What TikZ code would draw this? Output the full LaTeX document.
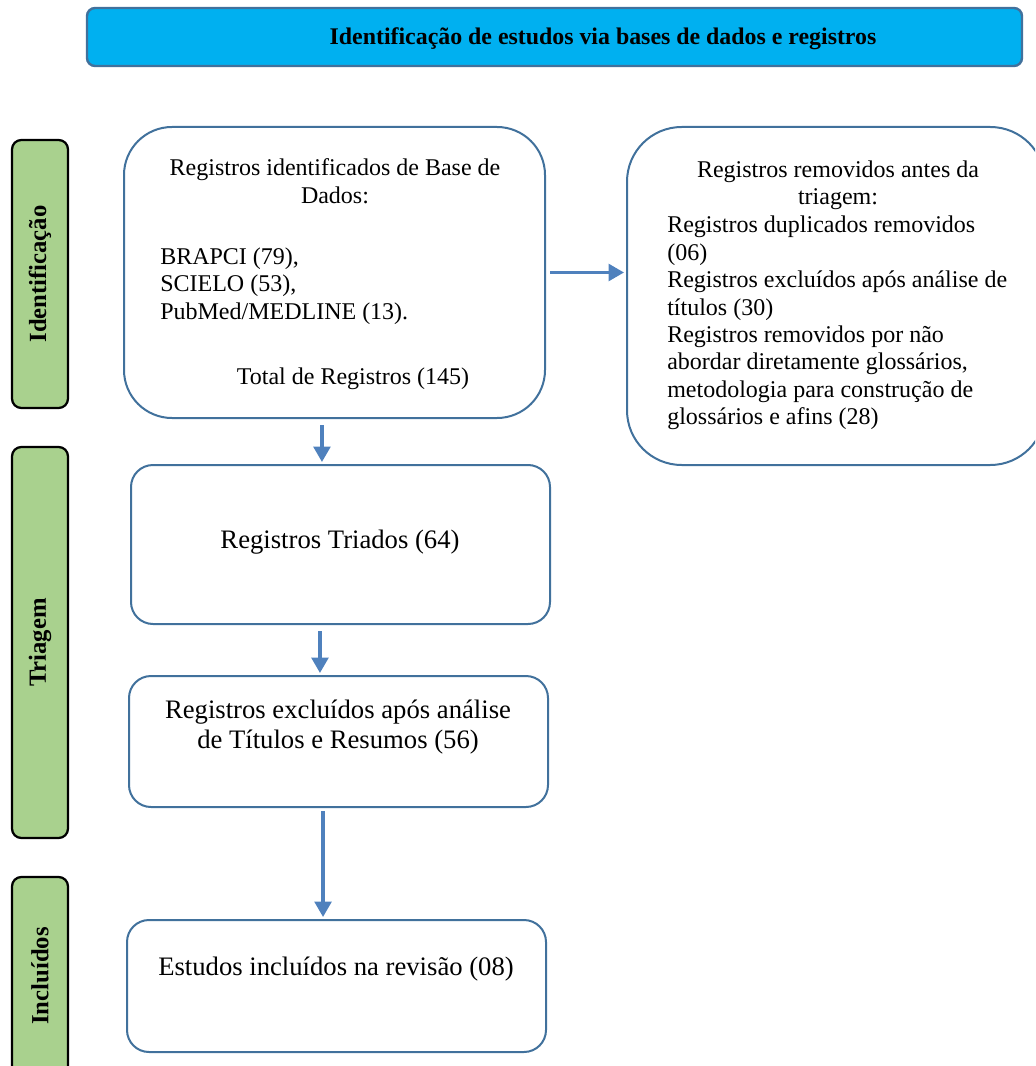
\documentclass[tikz,border=0pt]{standalone}
\usepackage{fontspec}
\setmainfont{Liberation Serif}
\usetikzlibrary{arrows.meta}
\definecolor{boxline}{RGB}{65,113,156}
\definecolor{arrowblue}{RGB}{79,129,189}
\definecolor{bannerfill}{RGB}{0,176,240}
\definecolor{stagefill}{RGB}{169,209,142}

\begin{document}
\begin{tikzpicture}[x=0.75pt,y=0.75pt,yscale=-1,xscale=1,
  flowbox/.style={draw=boxline,line width=1.5pt,fill=white,rounded corners=16.5pt,inner sep=0pt,minimum width=314.25pt},
  stagebox/.style={draw=black,line width=1.7pt,fill=stagefill,rounded corners=7pt,rotate=90,minimum height=42pt,inner sep=0pt,font=\fontsize{18.5}{21}\selectfont\bfseries},
  bodytext/.style={inner sep=0pt,font=\fontsize{18}{20.6}\selectfont},
  largetext/.style={inner sep=0pt,font=\fontsize{20}{22.5}\selectfont},
  flowarrow/.style={draw=arrowblue,line width=2.5pt,-{Triangle[length=11.5pt,width=12.5pt]}}]
\useasboundingbox (0,0) rectangle (1035,1066);
\clip (0,0) rectangle (1035,1066);
\node [draw=boxline,line width=1.8pt,fill=bannerfill,rounded corners=6pt,minimum width=701.25pt,minimum height=43.5pt] (banner) at (554.5,37) {};
\node [inner sep=0pt,font=\fontsize{17.9}{20}\selectfont\bfseries] (bannertext) at (603,39) {Identificação de estudos via bases de dados e registros};
\node [stagebox,minimum width=201pt] (identificacao) at (40,274) {Identificação};
\node [stagebox,minimum width=293.25pt] (triagem) at (40,642.5) {Triagem};
\node [stagebox,minimum width=148.5pt] (incluidos) at (40,976) {Incluídos};
\node [flowbox,minimum width=315.75pt,minimum height=218.25pt,rounded corners=36pt] (registros) at (334.5,272.5) {};
\node [flowbox,minimum width=313.5pt,minimum height=253.5pt,rounded corners=41pt] (removidos) at (836,296) {};
\node [flowbox,minimum height=119.25pt] (triados) at (340.5,544.5) {};
\node [flowbox,minimum height=98.25pt] (excluidos) at (338.5,741.5) {};
\node [flowbox,minimum height=99pt] (incluidosbox) at (336.5,986) {};
\draw (335,181) node [bodytext,align=center] (registrostitle) {Registros identificados de Base de\\Dados:};
\draw (160,286) node [bodytext,align=left,anchor=west] (registroslist) {BRAPCI (79),\\SCIELO (53),\\PubMed/MEDLINE (13).};
\draw (353,379) node [bodytext] (registrostotal) {Total de Registros (145)};
\draw (838,185) node [bodytext,align=center] (removidostitle) {Registros removidos antes da\\triagem:};
\draw (667,323) node [bodytext,align=left,anchor=west] (removidoslist) {Registros duplicados removidos\\(06)\\Registros excluídos após análise de\\títulos (30)\\Registros removidos por não\\abordar diretamente glossários,\\metodologia para construção de\\glossários e afins (28)};
\draw (340,542) node [largetext] (triadostext) {Registros Triados (64)};
\draw (338,727) node [largetext,align=center] (excluidostext) {Registros excluídos após análise\\de Títulos e Resumos (56)};
\draw (336,969) node [largetext] (incluidostext) {Estudos incluídos na revisão (08)};
\draw [flowarrow,shorten <=3pt,shorten >=1.5pt] (registros.east) -- (removidos.west |- registros.east);
\draw [flowarrow,shorten <=4.5pt,shorten >=1.5pt] ([xshift=-9.4pt]registros.south) -- ([xshift=-9.4pt]registros.south |- triados.north);
\draw [flowarrow,shorten <=4.5pt,shorten >=1.5pt] ([xshift=-15.4pt]triados.south) -- ([xshift=-15.4pt]triados.south |- excluidos.north);
\draw [flowarrow,shorten <=2.25pt,shorten >=1.5pt] ([xshift=-11.6pt]excluidos.south) -- ([xshift=-11.6pt]excluidos.south |- incluidosbox.north);
\end{tikzpicture}
\end{document}
